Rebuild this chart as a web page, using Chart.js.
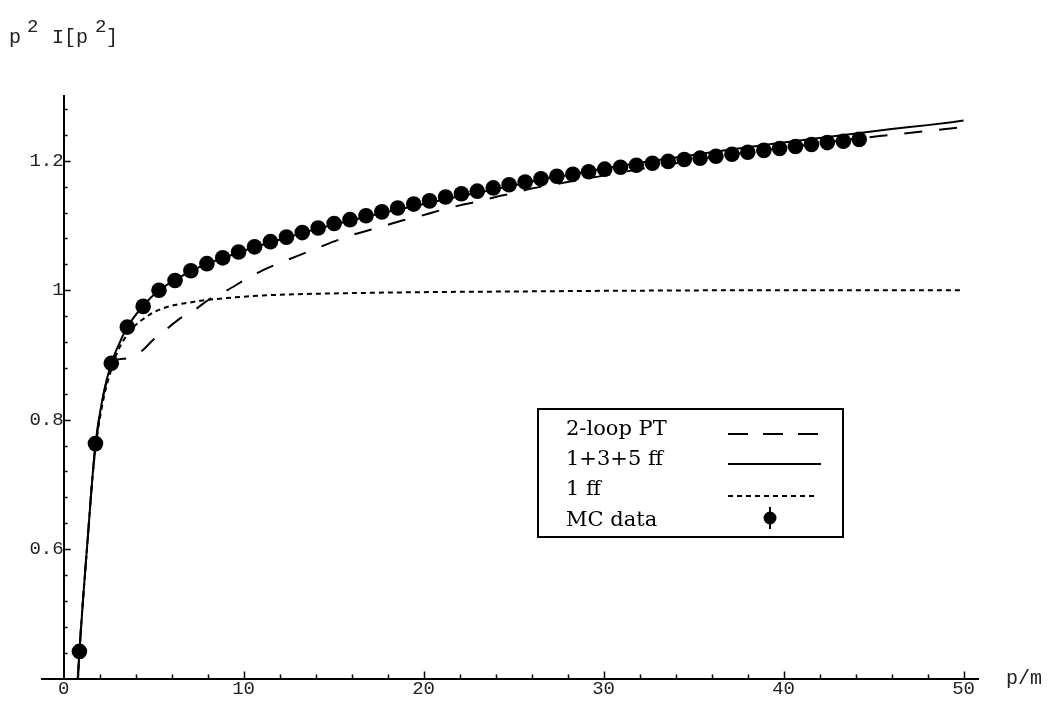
<!DOCTYPE html>
<html>
<head>
<meta charset="utf-8">
<title>p^2 I[p^2]</title>
<script src="https://cdn.jsdelivr.net/npm/chart.js@4.4.1/dist/chart.umd.min.js"></script>
<style>
  html, body { margin: 0; padding: 0; background: #fff; }
</style>
</head>
<body>
<canvas id="chart" width="1052" height="702"></canvas>
<script>
// MC data
var mcP = [0.88, 1.77, 2.65, 3.54, 4.42, 5.30, 6.19, 7.07, 7.96, 8.84,
           9.72, 10.61, 11.49, 12.38, 13.26, 14.14, 15.03, 15.91, 16.80, 17.68,
           18.56, 19.45, 20.33, 21.22, 22.10, 22.98, 23.87, 24.75, 25.64, 26.52,
           27.40, 28.29, 29.17, 30.06, 30.94, 31.82, 32.71, 33.59, 34.48, 35.36,
           36.24, 37.13, 38.01, 38.90, 39.78, 40.66, 41.55, 42.43, 43.32, 44.20];
var mcI = [0.442, 0.763, 0.887, 0.943, 0.975, 1.000, 1.015, 1.030, 1.041, 1.050,
           1.059, 1.067, 1.075, 1.082, 1.089, 1.096, 1.103, 1.109, 1.115, 1.121,
           1.127, 1.133, 1.138, 1.144, 1.149, 1.153, 1.158, 1.163, 1.167, 1.172,
           1.176, 1.179, 1.183, 1.187, 1.190, 1.193, 1.196, 1.199, 1.202, 1.204,
           1.207, 1.210, 1.213, 1.216, 1.219, 1.222, 1.225, 1.228, 1.230, 1.233];

// 1+3+5 ff (solid)
var ffP = [0.78, 0.88, 1.1, 1.35, 1.57, 1.77, 2.2, 2.65, 3.1, 3.54, 4.42, 5.3, 6.2, 7.1, 8, 9, 10,
           12, 14, 16, 18, 20, 22, 24, 26, 28, 30, 32, 34, 36, 38, 40, 42, 44, 46, 48, 50];
var ffI = [0.40, 0.442, 0.53, 0.62, 0.70, 0.762, 0.838, 0.887, 0.918, 0.943, 0.976, 1.000, 1.016, 1.030, 1.041, 1.051, 1.061,
           1.078, 1.094, 1.108, 1.121, 1.133, 1.145, 1.156, 1.168, 1.178, 1.188, 1.197, 1.205, 1.213, 1.221, 1.228, 1.235, 1.242, 1.249, 1.255, 1.262];

// 2-loop PT (dashed)
var ptP = [0.80, 0.88, 1.1, 1.35, 1.57, 1.77, 2.2, 2.6, 2.9, 3.3, 3.7, 4.1, 4.5, 5.0, 5.6, 6.4, 7.3, 8.1, 9.1,
           10, 11, 12, 13, 14, 15, 16, 17, 18, 19, 20, 21, 22, 23, 24, 25, 26, 28, 30, 32, 34, 36, 38, 40, 42, 44, 46, 48, 50];
var ptI = [0.40, 0.442, 0.53, 0.62, 0.70, 0.76, 0.836, 0.878, 0.892, 0.894, 0.896, 0.901, 0.910, 0.924, 0.937, 0.955, 0.970, 0.986, 1.000,
           1.015, 1.030, 1.042, 1.053, 1.064, 1.075, 1.085, 1.093, 1.101, 1.109, 1.116, 1.124, 1.131, 1.137, 1.144, 1.150, 1.157, 1.167, 1.177, 1.187, 1.196, 1.205, 1.213, 1.220, 1.227, 1.234, 1.240, 1.246, 1.252];

// 1 ff (dotted)
var oneP = [0.80, 0.88, 1.1, 1.35, 1.57, 1.77, 2.2, 2.6, 3.0, 3.5, 4.0, 4.5, 5.0, 6.0, 7.0, 8.0, 10, 12, 15, 20, 25, 30, 40, 50];
var oneI = [0.40, 0.442, 0.53, 0.62, 0.70, 0.755, 0.83, 0.873, 0.905, 0.930, 0.946, 0.957, 0.966, 0.976, 0.981, 0.985, 0.990, 0.993, 0.995, 0.997, 0.998, 0.999, 1.0, 1.0];

var xTicks = [0, 10, 20, 30, 40, 50];
var yTicks = [0.6, 0.8, 1, 1.2];
var xMinorStep = 2;
var yMinorStep = 0.04;

var labels = ["2-loop PT", "1+3+5 ff", "1 ff", "MC data"];

function pts(xs, ys) {
  return xs.map(function(x, i) { return {x: x, y: ys[i]}; });
}

var monoFont = "'Liberation Mono', 'DejaVu Sans Mono', monospace";
var serifFont = "'DejaVu Serif', 'Liberation Serif', serif";

// axis ticks pointing inward, legend box and axis titles
var decor = {
  id: "decor",
  afterDraw: function(chart) {
    var ctx = chart.ctx;
    var xs = chart.scales.x, ys = chart.scales.y;
    var area = chart.chartArea;
    var x0 = xs.getPixelForValue(0);
    var yb = area.bottom;
    var i, v, px, py, len;

    ctx.save();
    ctx.strokeStyle = "#000";
    ctx.lineWidth = 1.5;
    ctx.beginPath();
    for (i = 1; i * xMinorStep <= 50; i++) {
      v = i * xMinorStep;
      px = Math.round(xs.getPixelForValue(v)) + 0.5;
      len = (v % 10 === 0) ? 7 : 4;
      ctx.moveTo(px, yb);
      ctx.lineTo(px, yb - len);
    }
    for (i = 11; i <= 32; i++) {
      v = i * yMinorStep;
      py = Math.round(ys.getPixelForValue(v)) + 0.5;
      len = (i % 5 === 0) ? 7 : 4;
      ctx.moveTo(x0, py);
      ctx.lineTo(x0 + len, py);
    }
    ctx.stroke();

    // axis titles
    ctx.fillStyle = "#222";
    ctx.textBaseline = "alphabetic";
    ctx.textAlign = "left";
    ctx.font = "20px " + monoFont;
    ctx.fillText("p", 9, 43);
    ctx.fillText("I[p", 52, 43);
    ctx.fillText("]", 106, 43);
    ctx.font = "19px " + monoFont;
    ctx.fillText("2", 27, 32);
    ctx.fillText("2", 95, 32);
    ctx.font = "20px " + monoFont;
    ctx.fillText("p/m", 1006, 684);

    // legend
    var bx = 538, by = 409, bw = 305, bh = 128;
    ctx.fillStyle = "#fff";
    ctx.fillRect(bx, by, bw, bh);
    ctx.lineWidth = 2;
    ctx.strokeRect(bx, by, bw, bh);

    ctx.fillStyle = "#000";
    ctx.font = "21px " + serifFont;
    var base = [435, 465, 495, 526];
    for (i = 0; i < labels.length; i++) {
      ctx.fillText(labels[i], 566, base[i]);
    }

    ctx.lineWidth = 2;
    ctx.setLineDash([20, 15]);
    ctx.beginPath(); ctx.moveTo(728, 434); ctx.lineTo(821, 434); ctx.stroke();
    ctx.setLineDash([]);
    ctx.beginPath(); ctx.moveTo(728, 464); ctx.lineTo(821, 464); ctx.stroke();
    ctx.setLineDash([5, 4]);
    ctx.beginPath(); ctx.moveTo(728, 496); ctx.lineTo(816, 496); ctx.stroke();
    ctx.setLineDash([]);
    ctx.beginPath(); ctx.moveTo(770, 507); ctx.lineTo(770, 529); ctx.stroke();
    ctx.beginPath(); ctx.arc(770, 518, 6.5, 0, Math.PI * 2); ctx.fill();
    ctx.restore();
  }
};

var ctx = document.getElementById("chart");

var data = {
  datasets: [
    {
      label: labels[0],
      data: pts(ptP, ptI),
      showLine: true,
      borderColor: "#000",
      borderWidth: 2,
      borderDash: [18, 17],
      pointRadius: 0,
      cubicInterpolationMode: "monotone"
    },
    {
      label: labels[1],
      data: pts(ffP, ffI),
      showLine: true,
      borderColor: "#000",
      borderWidth: 2,
      pointRadius: 0,
      cubicInterpolationMode: "monotone"
    },
    {
      label: labels[2],
      data: pts(oneP, oneI),
      showLine: true,
      borderColor: "#000",
      borderWidth: 2,
      borderDash: [5, 4],
      pointRadius: 0,
      cubicInterpolationMode: "monotone"
    },
    {
      label: labels[3],
      data: pts(mcP, mcI),
      showLine: false,
      backgroundColor: "#000",
      borderColor: "#000",
      borderWidth: 0,
      pointRadius: 7.8
    }
  ]
};

var options = {
  responsive: false,
  animation: false,
  layout: { padding: { left: 42, right: 74, top: 96, bottom: 0 } },
  plugins: {
    legend: { display: false },
    tooltip: { enabled: false }
  },
  scales: {
    x: {
      type: "linear",
      position: "bottom",
      min: -1.2,
      max: 50.8,
      afterBuildTicks: function(s) { s.ticks = xTicks.map(function(v) { return {value: v}; }); },
      grid: { display: false, drawTicks: false },
      border: { display: true, color: "#000", width: 2 },
      ticks: {
        color: "#222",
        padding: 1,
        maxRotation: 0,
        autoSkip: false,
        font: { family: monoFont, size: 19, lineHeight: 1 },
        callback: function(v) { return String(v); }
      }
    },
    y: {
      type: "linear",
      position: { x: 0 },
      min: 0.4,
      max: 1.3,
      afterBuildTicks: function(s) { s.ticks = yTicks.map(function(v) { return {value: v}; }); },
      grid: { display: false, drawTicks: false },
      border: { display: true, color: "#000", width: 2 },
      ticks: {
        color: "#222",
        padding: 12,
        autoSkip: false,
        font: { family: monoFont, size: 19 },
        callback: function(v) { return String(+v.toFixed(2)); }
      }
    }
  }
};

var chart = new Chart(ctx, {
  type: "scatter",
  data: data,
  options: options,
  plugins: [decor]
});
</script>
</body>
</html>
